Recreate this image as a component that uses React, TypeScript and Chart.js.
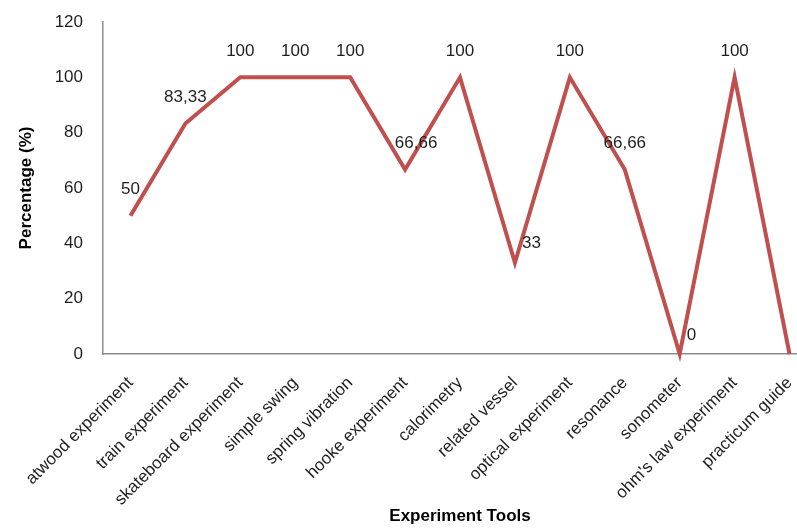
import React, { useEffect, useRef } from "react";
import { Chart, registerables } from "chart.js";

Chart.register(...registerables);

const categories = [
  "atwood experiment",
  "train experiment",
  "skateboard experiment",
  "simple swing",
  "spring vibration",
  "hooke experiment",
  "calorimetry",
  "related vessel",
  "optical experiment",
  "resonance",
  "sonometer",
  "ohm's law experiment",
  "practicum guide",
];

const percentages = [50, 83.33, 100, 100, 100, 66.66, 100, 33, 100, 66.66, 0, 100, 0];

const valueLabels = ["50", "83,33", "100", "100", "100", "66,66", "100", "33", "100", "66,66", "0", "100", "0"];

const yTicks = [0, 20, 40, 60, 80, 100, 120];

// label placement relative to each point (style only)
const labelPlacement = [
  "above", "above", "above", "above", "above", "aboveRight", "above",
  "right", "above", "above", "right", "above", "right",
];

const FONT = "'Liberation Sans', Arial, sans-serif";

const dataLabelPlugin = {
  id: "valueLabels",
  afterDatasetsDraw(chart: any) {
    const ctx = chart.ctx;
    const meta = chart.getDatasetMeta(0);
    ctx.save();
    ctx.font = `17px ${FONT}`;
    ctx.fillStyle = "#1f1f1f";
    ctx.textBaseline = "middle";
    meta.data.forEach((pt: any, i: number) => {
      const place = labelPlacement[i];
      const text = valueLabels[i];
      if (place === "right") {
        ctx.textAlign = "left";
        ctx.fillText(text, pt.x + 7, pt.y - 19);
      } else if (place === "aboveRight") {
        ctx.textAlign = "center";
        ctx.fillText(text, pt.x + 11, pt.y - 26);
      } else {
        ctx.textAlign = "center";
        ctx.fillText(text, pt.x, pt.y - 26);
      }
    });
    ctx.restore();
  },
};

export default function App() {
  const canvasRef = useRef<HTMLCanvasElement | null>(null);

  useEffect(() => {
    const canvas = canvasRef.current;
    if (!canvas) return;
    const chart = new Chart(canvas, {
      type: "line",
      data: {
        labels: categories,
        datasets: [
          {
            data: percentages,
            borderColor: "#C0504D",
            backgroundColor: "#C0504D",
            borderWidth: 4,
            pointRadius: 0,
            tension: 0,
            fill: false,
            borderJoinStyle: "miter",
          },
        ],
      },
      options: {
        responsive: false,
        animation: false,
        clip: false,
        layout: { padding: { top: 22, right: 13, left: 0, bottom: 0 } },
        plugins: {
          legend: { display: false },
          tooltip: { enabled: false },
        },
        scales: {
          x: {
            type: "category",
            offset: true,
            grid: { display: false, drawTicks: false },
            border: { display: true, color: "#8c8c8c", width: 1.5 },
            ticks: {
              autoSkip: false,
              minRotation: 45,
              maxRotation: 45,
              padding: 19,
              color: "#1f1f1f",
              font: { family: FONT, size: 17 },
            },
            title: {
              display: true,
              text: "Experiment Tools",
              color: "#000",
              font: { family: FONT, size: 17, weight: "bold" },
              padding: { top: 0, bottom: 2 },
            },
            afterFit(scale: any) {
              scale.height = 175;
            },
          },
          y: {
            min: 0,
            max: 120,
            afterBuildTicks(scale: any) {
              scale.ticks = yTicks.map((v) => ({ value: v }));
            },
            grid: { display: false, drawTicks: false },
            border: { display: true, color: "#8c8c8c", width: 1.5 },
            ticks: {
              padding: 20,
              color: "#1f1f1f",
              font: { family: FONT, size: 17 },
            },
            title: {
              display: true,
              text: "Percentage (%)",
              color: "#000",
              font: { family: FONT, size: 17, weight: "bold" },
              padding: { top: 16, bottom: 0 },
            },
            afterFit(scale: any) {
              scale.width = 103;
              scale.paddingTop = 0;
              scale.paddingBottom = 0;
            },
          },
        },
      },
      plugins: [dataLabelPlugin],
    } as any);
    return () => chart.destroy();
  }, []);

  return (
    <div
      style={{
        position: "fixed",
        left: 0,
        top: 0,
        width: 797,
        height: 529,
        overflow: "hidden",
        background: "#fff",
      }}
    >
      <canvas ref={canvasRef} width={830} height={529} style={{ display: "block" }} />
    </div>
  );
}
